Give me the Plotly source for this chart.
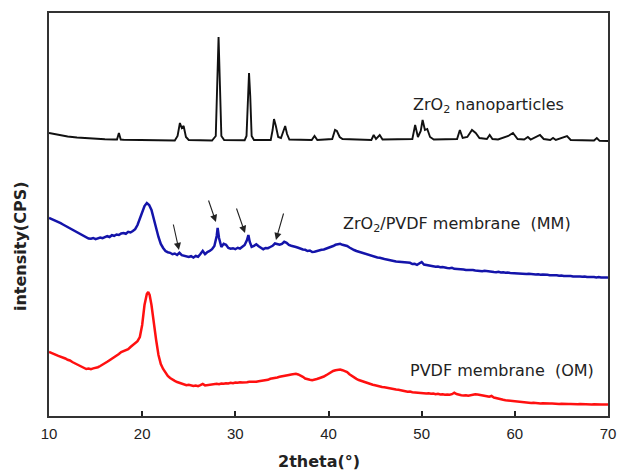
import plotly.graph_objects as go

# ---- XRD patterns (2theta in degrees, intensity in counts, curves stacked) ----

# ZrO2 nanoparticles
np_2theta = [10.0, 11.0, 12.0, 13.0, 14.0, 15.0, 16.0, 17.0, 17.3, 17.5, 17.7, 18.0,
             20.0, 22.0, 23.5, 23.8, 24.05, 24.25, 24.45, 24.7, 25.0, 27.5, 27.9,
             28.05, 28.2, 28.35, 28.5, 28.8, 31.0, 31.2, 31.35, 31.47, 31.6, 31.75,
             32.0, 33.8, 34.0, 34.15, 34.35, 34.6, 34.9, 35.2, 35.35, 35.55, 35.8,
             38.2, 38.5, 38.8, 40.4, 40.7, 40.9, 41.2, 41.5, 44.6, 44.85, 45.1,
             45.5, 45.8, 49.0, 49.3, 49.6, 49.9, 50.1, 50.35, 50.6, 50.9, 51.3,
             53.8, 54.1, 54.4, 54.9, 55.4, 55.8, 56.2, 57.0, 57.3, 57.6, 58.2,
             59.3, 59.8, 60.3, 61.0, 61.4, 61.7, 62.7, 63.1, 63.8, 64.1, 64.4,
             65.6, 66.0, 68.5, 68.8, 69.1, 70.0]
np_counts = [2830, 2810, 2795, 2785, 2778, 2772, 2768, 2765, 2765, 2830, 2765, 2762,
             2758, 2755, 2755, 2800, 2930, 2880, 2900, 2790, 2760, 2755, 2800,
             3300, 3790, 3300, 2800, 2760, 2758, 2800, 3200, 3430, 3200, 2800,
             2760, 2760, 2860, 2970, 2900, 2790, 2780, 2850, 2900, 2820, 2765,
             2760, 2800, 2760, 2770, 2860, 2850, 2790, 2770, 2760, 2810, 2770,
             2810, 2765, 2770, 2910, 2790, 2850, 2960, 2860, 2870, 2790, 2765,
             2770, 2860, 2780, 2790, 2860, 2830, 2780, 2770, 2810, 2770, 2765,
             2800, 2830, 2770, 2765, 2790, 2765, 2810, 2770, 2760, 2780, 2760,
             2800, 2760, 2755, 2780, 2752, 2750]

# ZrO2/PVDF membrane (MM)
mm_2theta = [10.0, 10.25, 10.5, 10.75, 11.0, 11.25, 11.5, 11.75, 12.0, 12.25, 12.5, 12.75,
             13.0, 13.25, 13.5, 13.75, 14.0, 14.25, 14.5, 14.75, 15.0, 15.25, 15.5, 15.75,
             16.0, 16.25, 16.5, 16.75, 17.0, 17.25, 17.5, 17.75, 18.0, 18.25, 18.5, 18.75,
             19.0, 19.25, 19.5, 19.75, 20.0, 20.25, 20.5, 20.75, 21.0, 21.25, 21.5, 21.75,
             22.0, 22.25, 22.5, 22.75, 23.0, 23.25, 23.5, 23.75, 24.0, 24.25, 24.5, 24.75,
             25.0, 25.25, 25.5, 25.75, 26.0, 26.25, 26.5, 26.75, 27.0, 27.25, 27.5, 27.75,
             28.0, 28.1, 28.25, 28.5, 28.75, 29.0, 29.25, 29.5, 29.75, 30.0, 30.25, 30.5,
             30.75, 31.0, 31.25, 31.4, 31.55, 31.75, 32.0, 32.25, 32.5, 32.75, 33.0, 33.25,
             33.5, 33.75, 34.0, 34.25, 34.5, 34.75, 35.0, 35.25, 35.5, 35.75, 36.0, 36.25,
             36.5, 36.75, 37.0, 37.25, 37.5, 37.75, 38.0, 38.25, 38.5, 38.75, 39.0, 39.25,
             39.5, 39.75, 40.0, 40.25, 40.5, 40.75, 41.0, 41.25, 41.5, 41.75, 42.0, 42.25,
             42.5, 42.75, 43.0, 43.25, 43.5, 43.75, 44.0, 44.25, 44.5, 44.75, 45.0, 45.25,
             45.5, 45.75, 46.0, 46.25, 46.5, 46.75, 47.0, 47.25, 47.5, 47.75, 48.0, 48.25,
             48.5, 48.75, 49.0, 49.25, 49.5, 49.75, 50.0, 50.25, 50.5, 50.75, 51.0, 51.25,
             51.5, 51.75, 52.0, 52.25, 52.5, 52.75, 53.0, 53.25, 53.5, 53.75, 54.0, 54.25,
             54.5, 54.75, 55.0, 55.25, 55.5, 55.75, 56.0, 56.25, 56.5, 56.75, 57.0, 57.25,
             57.5, 57.75, 58.0, 58.25, 58.5, 58.75, 59.0, 59.25, 59.5, 59.75, 60.0, 60.25,
             60.5, 60.75, 61.0, 61.25, 61.5, 61.75, 62.0, 62.25, 62.5, 62.75, 63.0, 63.25,
             63.5, 63.75, 64.0, 64.25, 64.5, 64.75, 65.0, 65.25, 65.5, 65.75, 66.0, 66.25,
             66.5, 66.75, 67.0, 67.25, 67.5, 67.75, 68.0, 68.25, 68.5, 68.75, 69.0, 69.25,
             69.5, 69.75, 70.0]
mm_counts = [1980, 1970, 1962, 1950, 1945, 1928, 1915, 1902, 1885, 1872, 1864, 1845,
             1838, 1822, 1812, 1795, 1788, 1775, 1772, 1780, 1768, 1778, 1785, 1778,
             1792, 1798, 1790, 1808, 1802, 1815, 1810, 1826, 1830, 1822, 1842, 1835,
             1850, 1868, 1910, 1968, 2040, 2100, 2130, 2110, 2060, 1980, 1880, 1790,
             1720, 1680, 1650, 1638, 1632, 1618, 1625, 1610, 1632, 1608, 1602, 1595,
             1590, 1598, 1585, 1600, 1592, 1620, 1652, 1618, 1640, 1650, 1668, 1700,
             1800, 1880, 1780, 1690, 1722, 1712, 1680, 1672, 1678, 1668, 1682, 1675,
             1690, 1710, 1760, 1810, 1740, 1692, 1702, 1718, 1698, 1682, 1668, 1680,
             1678, 1690, 1702, 1725, 1718, 1712, 1720, 1742, 1732, 1710, 1702, 1698,
             1690, 1682, 1670, 1665, 1662, 1650, 1655, 1640, 1642, 1650, 1652, 1662,
             1665, 1672, 1680, 1692, 1700, 1712, 1715, 1722, 1712, 1708, 1700, 1685,
             1670, 1660, 1650, 1642, 1635, 1628, 1622, 1612, 1608, 1598, 1592, 1585,
             1582, 1572, 1570, 1565, 1558, 1555, 1550, 1545, 1542, 1538, 1540, 1532,
             1528, 1532, 1520, 1522, 1512, 1530, 1540, 1515, 1510, 1505, 1500, 1502,
             1492, 1495, 1488, 1490, 1482, 1480, 1478, 1482, 1472, 1470, 1468, 1472,
             1465, 1460, 1462, 1458, 1460, 1455, 1452, 1450, 1448, 1452, 1448, 1442,
             1445, 1440, 1438, 1442, 1436, 1438, 1432, 1435, 1430, 1428, 1430, 1425,
             1428, 1422, 1425, 1420, 1422, 1418, 1420, 1415, 1417, 1412, 1415, 1410,
             1412, 1408, 1410, 1405, 1408, 1402, 1405, 1400, 1402, 1398, 1400, 1396,
             1398, 1394, 1396, 1392, 1395, 1390, 1392, 1395, 1390, 1386, 1390, 1385,
             1388, 1384, 1386]

# PVDF membrane (OM)
om_2theta = [10.0, 10.25, 10.5, 10.75, 11.0, 11.25, 11.5, 11.75, 12.0, 12.25, 12.5, 12.75,
             13.0, 13.25, 13.5, 13.75, 14.0, 14.25, 14.5, 14.75, 15.0, 15.25, 15.5, 15.75,
             16.0, 16.25, 16.5, 16.75, 17.0, 17.25, 17.5, 17.75, 18.0, 18.25, 18.5, 18.75,
             19.0, 19.25, 19.5, 19.75, 20.0, 20.25, 20.5, 20.65, 20.8, 21.0, 21.25, 21.5,
             21.75, 22.0, 22.25, 22.5, 22.75, 23.0, 23.25, 23.5, 23.75, 24.0, 24.25, 24.5,
             24.75, 25.0, 25.25, 25.5, 25.75, 26.0, 26.25, 26.5, 26.75, 27.0, 27.25, 27.5,
             27.75, 28.0, 28.25, 28.5, 28.75, 29.0, 29.25, 29.5, 29.75, 30.0, 30.25, 30.5,
             30.75, 31.0, 31.25, 31.5, 31.75, 32.0, 32.25, 32.5, 32.75, 33.0, 33.25, 33.5,
             33.75, 34.0, 34.25, 34.5, 34.75, 35.0, 35.25, 35.5, 35.75, 36.0, 36.25, 36.5,
             36.75, 37.0, 37.25, 37.5, 37.75, 38.0, 38.25, 38.5, 38.75, 39.0, 39.25, 39.5,
             39.75, 40.0, 40.25, 40.5, 40.75, 41.0, 41.25, 41.5, 41.75, 42.0, 42.25, 42.5,
             42.75, 43.0, 43.25, 43.5, 43.75, 44.0, 44.25, 44.5, 44.75, 45.0, 45.25, 45.5,
             45.75, 46.0, 46.25, 46.5, 46.75, 47.0, 47.25, 47.5, 47.75, 48.0, 48.25, 48.5,
             48.75, 49.0, 49.25, 49.5, 49.75, 50.0, 50.25, 50.5, 50.75, 51.0, 51.25, 51.5,
             51.75, 52.0, 52.25, 52.5, 52.75, 53.0, 53.25, 53.5, 53.75, 54.0, 54.25, 54.5,
             54.75, 55.0, 55.25, 55.5, 55.75, 56.0, 56.25, 56.5, 56.75, 57.0, 57.25, 57.5,
             57.75, 58.0, 58.25, 58.5, 58.75, 59.0, 59.25, 59.5, 59.75, 60.0, 60.25, 60.5,
             60.75, 61.0, 61.25, 61.5, 61.75, 62.0, 62.25, 62.5, 62.75, 63.0, 63.25, 63.5,
             63.75, 64.0, 64.25, 64.5, 64.75, 65.0, 65.25, 65.5, 65.75, 66.0, 66.25, 66.5,
             66.75, 67.0, 67.25, 67.5, 67.75, 68.0, 68.25, 68.5, 68.75, 69.0, 69.25, 69.5,
             69.75, 70.0]
om_counts = [640, 628, 620, 612, 602, 595, 582, 575, 562, 555, 540, 528,
             512, 502, 492, 482, 470, 475, 468, 476, 480, 488, 500, 512,
             528, 542, 558, 572, 590, 602, 620, 640, 648, 662, 668, 690,
             708, 722, 748, 790, 910, 1110, 1220, 1240, 1210, 1110, 910, 760,
             610, 520, 470, 430, 400, 380, 362, 352, 340, 332, 320, 318,
             308, 312, 302, 300, 305, 298, 308, 320, 306, 310, 312, 318,
             315, 322, 318, 325, 322, 328, 325, 332, 328, 335, 332, 338,
             335, 340, 338, 342, 340, 345, 342, 348, 350, 352, 360, 362,
             372, 375, 382, 385, 392, 395, 402, 405, 410, 415, 418, 422,
             415, 405, 392, 375, 365, 362, 358, 368, 370, 378, 385, 395,
             408, 425, 440, 450, 458, 462, 465, 458, 452, 440, 418, 400,
             385, 372, 360, 352, 340, 335, 325, 320, 312, 308, 300, 298,
             290, 288, 282, 280, 272, 270, 265, 262, 255, 252, 248, 242,
             245, 238, 235, 238, 232, 228, 230, 225, 228, 222, 225, 218,
             222, 215, 218, 212, 216, 212, 218, 232, 220, 210, 208, 205,
             208, 202, 208, 212, 218, 215, 212, 210, 205, 198, 192, 200,
             185, 178, 172, 168, 162, 158, 155, 152, 150, 145, 142, 140,
             138, 135, 132, 134, 130, 132, 128, 130, 126, 128, 125, 127,
             124, 126, 122, 124, 121, 123, 120, 122, 119, 121, 118, 120,
             117, 120, 118, 121, 117, 119, 116, 118, 115, 117, 114, 116,
             113, 115]

# Reflections of ZrO2 marked on the MM pattern: (tip 2theta, tip counts, tail 2theta, tail counts)
mm_marks = [(23.95, 1660, 23.31, 1930),
            (27.92, 1940, 27.07, 2170),
            (31.04, 1830, 30.07, 2090),
            (34.36, 1760, 35.22, 2040)]

x_ticks = [10, 20, 30, 40, 50, 60, 70]

TEXT_FONT = "DejaVu Sans"
TICK_FONT = "Liberation Sans, Arial, sans-serif"

fig = go.Figure()
fig.add_trace(go.Scatter(x=np_2theta, y=np_counts, mode="lines",
                         line=dict(color="#111111", width=1.9), hoverinfo="skip"))
fig.add_trace(go.Scatter(x=mm_2theta, y=mm_counts, mode="lines",
                         line=dict(color="#1414aa", width=2.5), hoverinfo="skip"))
fig.add_trace(go.Scatter(x=om_2theta, y=om_counts, mode="lines",
                         line=dict(color="#ff1010", width=2.5), hoverinfo="skip"))

annotations = []
for tip_x, tip_y, tail_x, tail_y in mm_marks:
    annotations.append(dict(x=tip_x, y=tip_y, ax=tail_x, ay=tail_y,
                            xref="x", yref="y", axref="x", ayref="y",
                            text="", showarrow=True, arrowhead=2, arrowsize=1.3,
                            arrowwidth=1.1, arrowcolor="#222222"))

label_font = dict(family=TEXT_FONT, size=16, color="#222222")
annotations += [
    dict(x=57.12, y=3110, xref="x", yref="y", text="ZrO<sub>2</sub> nanoparticles",
         showarrow=False, font=label_font, xanchor="center", yanchor="middle"),
    dict(x=53.79, y=1920, xref="x", yref="y", text="ZrO<sub>2</sub>/PVDF membrane  (MM)",
         showarrow=False, font=label_font, xanchor="center", yanchor="middle"),
    dict(x=58.57, y=460, xref="x", yref="y", text="PVDF membrane  (OM)",
         showarrow=False, font=label_font, xanchor="center", yanchor="middle"),
    # axis titles
    dict(x=(319 - 49) / 559, y=-(461 - 416) / 403, xref="paper", yref="paper",
         text="<b>2theta(°)</b>", showarrow=False,
         font=dict(family=TEXT_FONT, size=16, color="#222222"),
         xanchor="center", yanchor="middle"),
    dict(x=(21 - 49) / 559, y=(416 - 247) / 403, xref="paper", yref="paper",
         text="<b>intensity(CPS)</b>", showarrow=False, textangle=-90,
         font=dict(family=TEXT_FONT, size=16, color="#222222"),
         xanchor="center", yanchor="middle"),
]

fig.update_layout(
    width=617, height=471,
    margin=dict(l=49, r=9, t=13, b=55, autoexpand=False),
    paper_bgcolor="white", plot_bgcolor="white",
    showlegend=False,
    annotations=annotations,
    xaxis=dict(range=[10, 70], tickvals=x_ticks, ticktext=[str(v) for v in x_ticks],
               ticks="inside", ticklen=5, tickwidth=1.5, tickcolor="#222222",
               ticklabelstandoff=3,
               showline=True, linewidth=2, linecolor="#333333", mirror=True,
               showgrid=False, zeroline=False, automargin=False,
               tickfont=dict(family=TICK_FONT, size=15, color="#222222")),
    yaxis=dict(range=[0, 4030], showticklabels=False, ticks="",
               showline=True, linewidth=2, linecolor="#333333", mirror=True,
               showgrid=False, zeroline=False, automargin=False),
)

fig.write_html("out.html")
